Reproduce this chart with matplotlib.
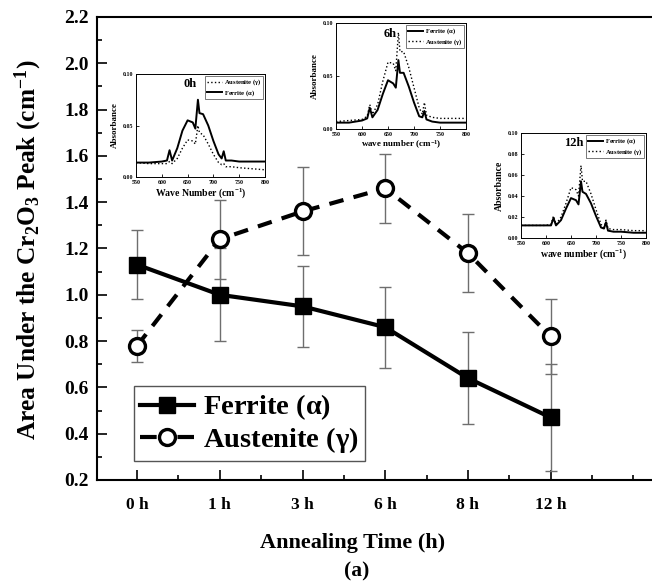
import numpy as np
import matplotlib
matplotlib.use("Agg")
import matplotlib.pyplot as plt
from matplotlib.lines import Line2D
from matplotlib.ticker import MultipleLocator

plt.rcParams.update({
    "font.family": "Liberation Serif",
    "font.weight": "bold",
    "axes.labelweight": "bold",
    "mathtext.fontset": "custom",
    "mathtext.rm": "Liberation Serif:bold",
    "mathtext.it": "Liberation Serif:bold",
    "mathtext.bf": "Liberation Serif:bold",
})

# ── main data ───────────────────────────────────────────────
times = ["0 h", "1 h", "3 h", "6 h", "8 h", "12 h"]
ferrite = [1.13, 1.00, 0.95, 0.86, 0.64, 0.47]
ferrite_err = [0.15, 0.20, 0.175, 0.175, 0.20, 0.23]
austenite = [0.78, 1.24, 1.36, 1.46, 1.18, 0.82]
austenite_err = [0.07, 0.17, 0.19, 0.15, 0.17, 0.16]

# ── inset spectra ──────────────────────────────────────────
wn = [550, 575, 600, 610, 615, 620, 630, 640, 650, 660, 665, 670,
      673, 680, 690, 700, 710, 716, 720, 724, 735, 750, 775, 800]
fer_0h = [0.014, 0.014, 0.015, 0.016, 0.026, 0.016, 0.028, 0.045, 0.055, 0.053, 0.047, 0.075,
          0.062, 0.061, 0.050, 0.035, 0.022, 0.018, 0.025, 0.016, 0.016, 0.015, 0.015, 0.015]
aus_0h = [0.014, 0.013, 0.013, 0.013, 0.015, 0.013, 0.018, 0.028, 0.036, 0.035, 0.032, 0.050,
          0.043, 0.041, 0.032, 0.022, 0.014, 0.012, 0.013, 0.010, 0.010, 0.009, 0.008, 0.007]
fer_6h = [0.006, 0.006, 0.008, 0.010, 0.020, 0.011, 0.018, 0.033, 0.046, 0.043, 0.039, 0.065,
          0.053, 0.053, 0.040, 0.025, 0.012, 0.011, 0.017, 0.009, 0.007, 0.006, 0.006, 0.006]
aus_6h = [0.007, 0.008, 0.009, 0.012, 0.023, 0.014, 0.023, 0.045, 0.063, 0.062, 0.055, 0.091,
          0.073, 0.073, 0.058, 0.039, 0.020, 0.014, 0.025, 0.013, 0.011, 0.010, 0.010, 0.010]
fer_12h = [0.012, 0.012, 0.012, 0.012, 0.019, 0.012, 0.017, 0.028, 0.038, 0.036, 0.032, 0.054,
           0.044, 0.042, 0.033, 0.021, 0.010, 0.009, 0.015, 0.007, 0.006, 0.006, 0.005, 0.005]
aus_12h = [0.012, 0.012, 0.012, 0.013, 0.021, 0.013, 0.020, 0.033, 0.048, 0.046, 0.040, 0.069,
           0.054, 0.054, 0.042, 0.027, 0.013, 0.010, 0.017, 0.009, 0.008, 0.008, 0.007, 0.007]

W, H = 652, 585
fig = plt.figure(figsize=(W / 100, H / 100), dpi=100)


def px_axes(x0, y0, x1, y1, **kw):
    # axes placed by pixel box (top-left origin)
    return fig.add_axes([x0 / W, 1 - y1 / H, (x1 - x0) / W, (y1 - y0) / H], **kw)


ax = px_axes(97, 17, 654, 480)
x = np.arange(len(times))

ax.errorbar(x, ferrite, yerr=ferrite_err, fmt="none", ecolor="#6e6e6e",
            elinewidth=1.0, capsize=4.5, capthick=1.0, zorder=2)
ax.errorbar(x, austenite, yerr=austenite_err, fmt="none", ecolor="#6e6e6e",
            elinewidth=1.0, capsize=4.5, capthick=1.0, zorder=2)
ax.plot(x, ferrite, color="black", lw=3, marker="s", ms=11,
        mfc="black", mec="black", zorder=3)
ax.plot(x, austenite, color="black", lw=3, dashes=(3.5, 2.5), marker="o", ms=11.5,
        mfc="white", mec="black", mew=2.4, zorder=3)

ax.set_xlim(-0.485, 6.25)
ax.set_ylim(0.2, 2.2)
ax.set_xticks(x)
ax.set_xticklabels(times)
ax.xaxis.set_minor_locator(MultipleLocator(0.5))
ax.yaxis.set_major_locator(MultipleLocator(0.2))
ax.yaxis.set_minor_locator(MultipleLocator(0.1))
ax.yaxis.set_major_formatter(matplotlib.ticker.FormatStrFormatter("%.1f"))
ax.tick_params(which="major", direction="in", length=7, width=1.2)
ax.tick_params(which="minor", direction="in", length=3.5, width=1.2)
ax.tick_params(axis="x", which="major", labelsize=12.5, pad=12)
ax.tick_params(axis="y", which="major", labelsize=14, pad=6)
for s in ax.spines.values():
    s.set_linewidth(1.5)
ax.spines["right"].set_visible(False)

ax.set_ylabel(r"Area Under the Cr$_2$O$_3$ Peak (cm$^{-1}$)", fontsize=18.3)
ax.yaxis.set_label_coords(-0.096, 0.497)
ax.set_xlabel("Annealing Time (h)", fontsize=16)
ax.xaxis.set_label_coords(0.458, -0.115)
fig.text(357 / W, 1 - 571 / H, "(a)", ha="center", va="center", fontsize=15.5)

# legend handles: same styles, dash pattern tuned to the short handle
handles = [
    Line2D([], [], color="black", lw=3, marker="s", ms=11, mfc="black", mec="black"),
    Line2D([], [], color="black", lw=3, dashes=(4, 5), marker="o", ms=11.5,
           mfc="white", mec="black", mew=2.4),
]
leg = ax.legend(handles, [r"Ferrite ($\alpha$)", r"Austenite ($\gamma$)"],
                loc="lower left", bbox_to_anchor=(0.066, 0.041), borderaxespad=0,
                fontsize=20.5, handlelength=1.9, handletextpad=0.32, labelspacing=0.08,
                borderpad=0.22, fancybox=False, edgecolor="#555555", framealpha=1)
leg.get_frame().set_linewidth(1.0)


def inset(box, first, second, yticks, title):
    a = px_axes(*box)
    a.set_facecolor("white")
    for (lab, vals, ls) in (first, second):
        a.plot(wn, vals, color="black", lw=1.4 if ls == "-" else 1.0, ls=ls, label=lab)
    a.set_xlim(550, 800)
    a.set_ylim(0, 0.10)
    a.set_xticks([550, 600, 650, 700, 750, 800])
    a.set_yticks(yticks)
    a.yaxis.set_major_formatter(matplotlib.ticker.FormatStrFormatter("%.2f"))
    a.tick_params(direction="in", length=2, width=0.6, labelsize=4.3, pad=2)
    for s in a.spines.values():
        s.set_linewidth(0.7)
    a.set_ylabel("Absorbance", fontsize=6.5, labelpad=3)
    a.text(0.42, 0.90, title, transform=a.transAxes, ha="center", va="center", fontsize=9)
    l = a.legend(loc="upper right", fontsize=4.8, handlelength=2.2, handletextpad=0.3,
                 borderpad=0.25, labelspacing=0.1, fancybox=False, edgecolor="#444444",
                 framealpha=1, borderaxespad=0.3)
    l.get_frame().set_linewidth(0.5)
    return a


a0 = inset((136, 74, 265, 177), (r"Austenite ($\gamma$)", aus_0h, ":"),
           (r"Ferrite ($\alpha$)", fer_0h, "-"), [0, 0.05, 0.10], "0h")
a0.set_xlabel(r"Wave Number (cm$^{-1}$)", fontsize=7, labelpad=1)

a6 = inset((336, 23, 466, 129), (r"Ferrite ($\alpha$)", fer_6h, "-"),
           (r"Austenite ($\gamma$)", aus_6h, ":"), [0, 0.05, 0.10], "6h")
a6.set_xlabel(r"wave number (cm$^{-1}$)", fontsize=6.5, labelpad=1)

a12 = inset((521, 133, 646, 238), (r"Ferrite ($\alpha$)", fer_12h, "-"),
            (r"Austenite ($\gamma$)", aus_12h, ":"), [0, 0.02, 0.04, 0.06, 0.08, 0.10], "12h")
a12.set_xlabel(r"wave number (cm$^{-1}$)", fontsize=7, labelpad=1)
a12.set_ylabel("Absorbance", fontsize=7, labelpad=3)

fig.savefig("out.png", dpi=100)
